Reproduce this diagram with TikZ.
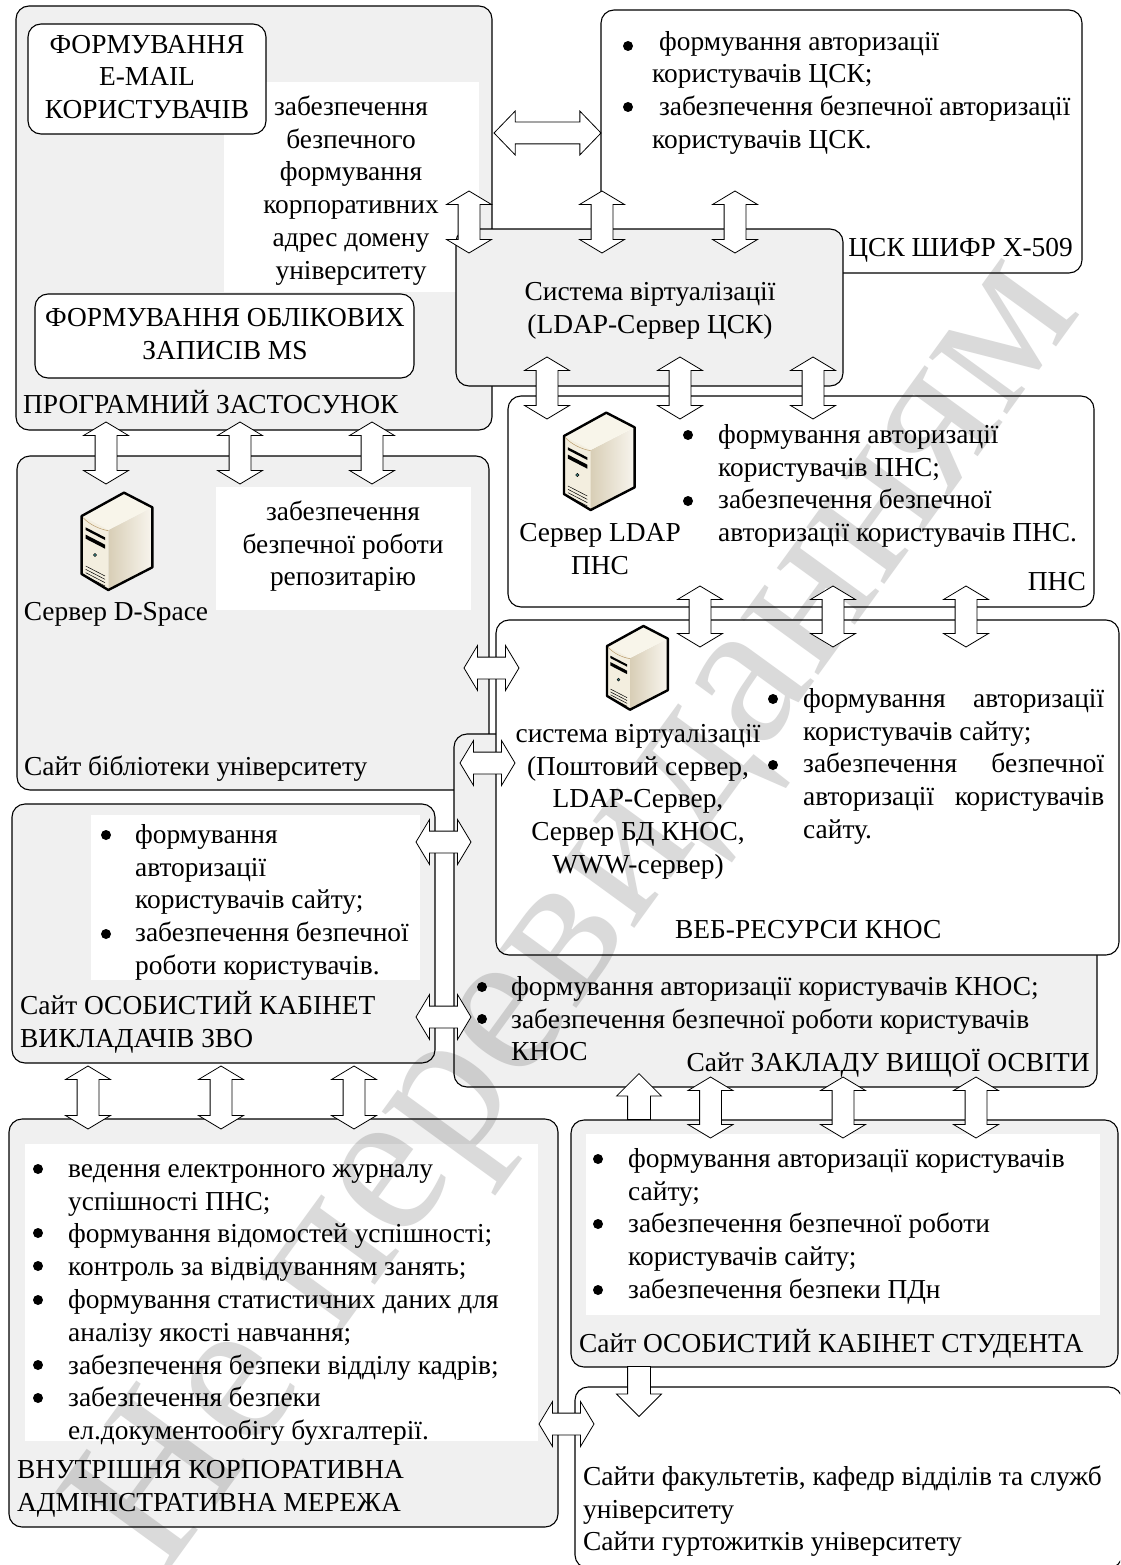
\documentclass[tikz,border=0pt]{standalone}
\usepackage{fontspec}
\setmainfont{Liberation Serif}
\usetikzlibrary{shapes.arrows}
\definecolor{boxgray}{HTML}{F0F0F0}
\definecolor{wmgray}{HTML}{DADADA}
\definecolor{srvdark}{HTML}{D8CEB6}
\definecolor{srvlight}{HTML}{F8F5EE}
\definecolor{srvtop}{HTML}{F8F5EA}
\definecolor{srvfront}{HTML}{F3EEDF}
\definecolor{srvedge}{HTML}{B89A6A}
\definecolor{srvled}{HTML}{3E7F7F}
\newcount\autoid
\tikzset{
  grayb/.style={draw=black,line width=1.1pt,fill=boxgray,rounded corners=13pt,rectangle,inner sep=0pt},
  whiteb/.style={draw=black,line width=1.1pt,fill=white,rounded corners=13pt,rectangle,inner sep=0pt},
  panelb/.style={fill=white,rectangle,inner sep=0pt},
  txt/.style={inner sep=0pt,font=\fontsize{27.4}{32.8}\selectfont,text=black},
  fat/.style={double arrow,draw=black,fill=white,line width=.8pt,inner xsep=0pt,inner ysep=10.5pt,
    double arrow head extend=11.5pt,double arrow tip angle=118},
  fatone/.style={single arrow,draw=black,fill=white,line width=.8pt,inner xsep=0pt,inner ysep=11pt,
    single arrow head extend=11pt,single arrow tip angle=90},
  bulletdot/.style={circle,fill=black,inner sep=0pt,minimum size=10pt},
}
\newcommand{\BX}[6]{\node[#1,minimum width={#4-#2},minimum height={#5-#3}] (#6) at ({(#2+#4)/2},{(#3+#5)/2}) {};}
\newcommand{\STR}{\rule{0pt}{24pt}}
\newcommand{\TL}[3]{\global\advance\autoid by 1\node[txt,anchor=north west,align=left] (t\the\autoid) at (#1,#2-16) {\STR #3};}
\newcommand{\TC}[3]{\global\advance\autoid by 1\node[txt,anchor=north,align=center] (t\the\autoid) at (#1,#2-16) {\STR #3};}
\newcommand{\TR}[3]{\global\advance\autoid by 1\node[txt,anchor=north east,align=right] (t\the\autoid) at (#1,#2-16) {\STR #3};}
\newcommand{\BU}[2]{\global\advance\autoid by 1\node[bulletdot] (b\the\autoid) at (#1,#2) {};}
\newcommand{\VA}[3]{\global\advance\autoid by 1\node[fat,rotate=90,minimum height={#3-#2}] (v\the\autoid) at (#1,{(#2+#3)/2}) {};}
\newcommand{\HA}[3]{\global\advance\autoid by 1\node[fat,minimum height={#2-#1}] (h\the\autoid) at ({(#1+#2)/2},#3) {};}
\newcommand{\SRV}[3]{%
\begin{scope}[shift={(#1,#2)},scale=#3/3]
  \path[left color=srvdark,right color=srvlight] (115,120)--(247,52)--(247,232)--(115,300)--cycle;
  \path[fill=srvtop] (35,78)--(162,8)--(247,52)--(115,120)--cycle;
  \path[fill=srvfront] (35,78)--(115,120)--(115,300)--(35,252)--cycle;
  \draw[line width=.5pt,draw=srvedge] (38,82)..controls (60,105) and (90,118) .. (115,122);
  \path[fill=black] (47,112)--(105,142)--(105,150)--(47,120)--cycle;
  \path[fill=black] (47,134)--(105,164)--(105,176)--(47,146)--cycle;
  \draw[line width=.5pt] (47,228)--(105,258) (47,238)--(105,268) (47,248)--(105,278) (47,258)--(105,288);
  \path[fill=srvled,draw=black,line width=.4pt] (75,195) circle (5);
  \draw[line width=2.4pt,line join=round] (35,78)--(162,8)--(247,52)--(247,232)--(115,300)--(35,252)--cycle;
\end{scope}}
\begin{document}
\begin{tikzpicture}[x=1pt,y=-1pt]
\useasboundingbox (0,0) rectangle (1120,1565);
\clip (0,0) rectangle (1120,1565);
\fill[white] (0,0) rectangle (1120,1565);
% boxes back to front
\BX{whiteb}{601}{10}{1082}{273}{csk}
\BX{grayb}{16}{6}{492}{430}{prog}
\BX{panelb}{224}{82}{479}{292}{progpanel}
\BX{whiteb}{28}{24}{266}{134}{email}
\BX{whiteb}{35}{294}{414}{378}{ms}
\BX{grayb}{456}{229}{843}{386}{virt}
\BX{whiteb}{508}{396}{1094}{607}{pns}
\BX{grayb}{17}{456}{489}{790}{lib}
\BX{panelb}{216}{487}{471}{610}{libpanel}
\BX{grayb}{454}{734}{1097}{1087}{zvo}
\BX{whiteb}{496}{620}{1119}{955}{web}
\BX{grayb}{12}{804}{435}{1063}{cab}
\BX{panelb}{91}{815}{420}{980}{cabpanel}
\BX{grayb}{9}{1119}{558}{1527}{adm}
\BX{panelb}{25}{1144}{538}{1441}{admpanel}
\BX{grayb}{571}{1120}{1118}{1367}{stud}
\BX{panelb}{586}{1134}{1100}{1315}{studpanel}
\BX{whiteb}{575}{1387}{1122}{1568}{sites}
% watermark
\begin{scope}[blend mode=multiply]
\node[inner sep=0pt,text=wmgray,rotate=54,font=\fontsize{210}{210}\selectfont] (wm) at (585,918) {Не перевиданням};
\end{scope}
% arrows
\node[fat,double arrow head extend=11pt,double arrow tip angle=92,minimum height=107pt] (toparrow) at (547.5,133) {};
\VA{469}{191}{253}\VA{602}{191}{253}\VA{735}{191}{253}
\VA{547}{357}{419}\VA{680}{357}{419}\VA{813}{357}{419}
\VA{106}{422}{484}\VA{240}{422}{484}\VA{372}{422}{484}
\VA{700}{586}{647}\VA{833}{586}{647}\VA{966}{586}{647}
\HA{464}{519}{668}\HA{460}{515}{763}\HA{416}{471}{842}\HA{416}{471}{1017}\HA{539}{594}{1424}
\VA{88}{1066}{1129}\VA{221}{1066}{1129}\VA{354}{1066}{1129}
\VA{710.5}{1077}{1138}\VA{843}{1077}{1138}\VA{976}{1077}{1138}
\node[fatone,rotate=90,minimum height=46pt,anchor=tip] (uparrow) at (639,1073) {};
\node[fatone,rotate=-90,minimum height=50pt,anchor=tip] (downarrow) at (639,1417) {};
% servers
\SRV{70}{490}{1}
\SRV{552.3}{410}{1}
\SRV{597}{623.7}{.86}
% texts
\TC{147}{45}{ФОРМУВАННЯ\\E-MAIL\\КОРИСТУВАЧІВ}
\TC{351}{107}{забезпечення\\безпечного\\формування\\корпоративних\\адрес домену\\університету}
\TC{225}{318}{ФОРМУВАННЯ ОБЛІКОВИХ\\ЗАПИСІВ MS}
\TL{23}{405}{ПРОГРАМНИЙ ЗАСТОСУНОК}
\BU{628}{46}\BU{628}{107}
\TL{652}{42}{\ формування авторизації\\користувачів ЦСК;\\\ забезпечення безпечної авторизації\\користувачів ЦСК.}
\TR{1073}{248}{ЦСК ШИФР Х-509}
\TC{650}{292}{Система віртуалізації\\(LDAP-Сервер ЦСК)}
\BU{688}{435}\BU{688}{501}
\TL{718}{435}{формування авторизації\\користувачів ПНС;\\забезпечення безпечної\\авторизації користувачів ПНС.}
\TR{1086}{582}{ПНС}
\TC{600}{533}{Сервер LDAP\\ПНС}
\TC{116}{612}{Сервер D-Space}
\TC{343}{512}{забезпечення\\безпечної роботи\\репозитарію}
\TL{24}{767}{Сайт бібліотеки університету}
\TC{638}{734}{система віртуалізації\\(Поштовий сервер,\\LDAP-Сервер,\\Сервер БД КНОС,\\WWW-сервер)}
\BU{773}{699}\BU{773}{765}
\TL{803}{699}{\makebox[301pt][s]{формування авторизації}\\користувачів сайту;\\\makebox[301pt][s]{забезпечення безпечної}\\\makebox[301pt][s]{авторизації користувачів}\\сайту.}
\TL{675}{930}{ВЕБ-РЕСУРСИ КНОС}
\BU{482}{987}\BU{482}{1019}
\TL{511}{987}{формування авторизації користувачів КНОС;\\забезпечення безпечної роботи користувачів\\КНОС}
\TR{1090}{1063}{Сайт ЗАКЛАДУ ВИЩОЇ ОСВІТИ}
\BU{106}{835}\BU{106}{934}
\TL{135}{835}{формування\\авторизації\\користувачів сайту;\\забезпечення безпечної\\роботи користувачів.}
\TL{20}{1006}{Сайт ОСОБИСТИЙ КАБІНЕТ\\ВИКЛАДАЧІВ ЗВО}
\BU{38}{1169}\BU{38}{1233}\BU{38}{1266}\BU{38}{1300}\BU{38}{1365}\BU{38}{1398}
\TL{68}{1169}{ведення електронного журналу\\успішності ПНС;\\формування відомостей успішності;\\контроль за відвідуванням занять;\\формування статистичних даних для\\аналізу якості навчання;\\забезпечення безпеки відділу кадрів;\\забезпечення безпеки\\ел.документообігу бухгалтерії.}
\TL{17}{1470}{ВНУТРІШНЯ КОРПОРАТИВНА\\АДМІНІСТРАТИВНА МЕРЕЖА}
\BU{598}{1159}\BU{598}{1224}\BU{598}{1290}
\TL{628}{1159}{формування авторизації користувачів\\сайту;\\забезпечення безпечної роботи\\користувачів сайту;\\забезпечення безпеки ПДн}
\TL{579}{1344}{Сайт ОСОБИСТИЙ КАБІНЕТ СТУДЕНТА}
\TL{583}{1477}{Сайти факультетів, кафедр відділів та служб\\університету\\Сайти гуртожитків університету}
\end{tikzpicture}
\end{document}
